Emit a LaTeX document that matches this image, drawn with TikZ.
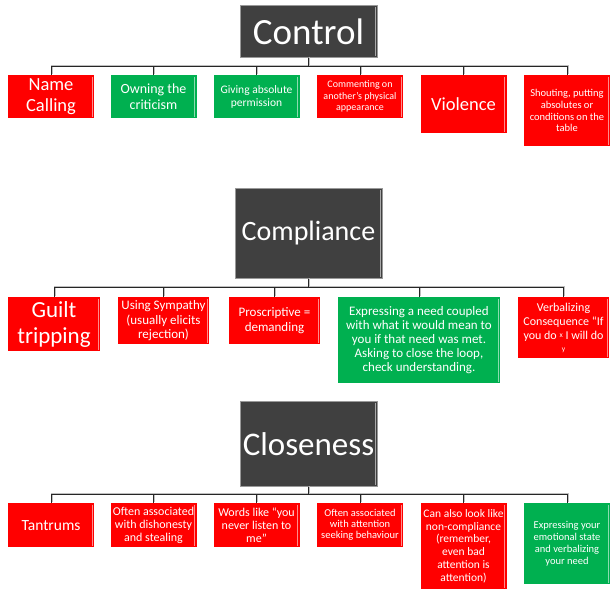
\documentclass[tikz,border=0pt]{standalone}
\usepackage{fontspec}
\setmainfont{Carlito}
\definecolor{boxred}{HTML}{FF0000}
\definecolor{boxgreen}{HTML}{00B050}
\definecolor{boxgray}{HTML}{404040}
\newcommand{\fsz}[2]{\fontsize{#1}{#2}\selectfont}
\begin{document}
\begin{tikzpicture}[
            x=1pt, y=-1pt,
            every node/.style={anchor=north, inner sep=0pt, align=center, text=white},
            bevel/.style={path picture={
                \draw[white, opacity=.55, line width=.7pt]
                  ([xshift=-1.8pt,yshift=-1.5pt]path picture bounding box.north east) --
                  ([xshift=-1.8pt,yshift=1.5pt]path picture bounding box.south east);}},
            titlebox/.style={bevel, fill=boxgray, draw=gray!80, line width=.8pt, minimum width=137pt},
            kidbox/.style={bevel, minimum width=86pt, minimum height=43pt},
            redbox/.style={kidbox, fill=boxred},
            greenbox/.style={kidbox, fill=boxgreen},
            wire/.style={draw=black!85, line width=.9pt,
                preaction={draw=gray!50, line width=1.4pt, transform canvas={xshift=.8pt,yshift=.8pt}}}
            ]
            \path[use as bounding box, fill=white] (0,0) rectangle (614,594);

            % Control
            \node[titlebox, minimum height=52pt, font=\fsz{37}{40}] (ctl) at (308.5,5) {Control};
            \node[redbox, font=\fsz{18.5}{21}] (ctl1) at (51,75) {Name\\Calling};
            \node[greenbox, font=\fsz{14}{16}] (ctl2) at (153.5,75) {Owning the\\criticism};
            \node[greenbox, font=\fsz{11.5}{13.5}] (ctl3) at (256.5,75) {Giving absolute\\permission};
            \node[redbox, font=\fsz{10}{11.5}] (ctl4) at (360,75) {Commenting on\\another’s physical\\appearance};
            \node[redbox, minimum height=58pt, font=\fsz{18.5}{21}] (ctl5) at (463.5,75) {Violence};
            \node[redbox, minimum height=71pt, font=\fsz{10.5}{11.7}] (ctl6) at (567,75) {Shouting, putting\\absolutes or\\conditions on the\\table};
            \foreach \i in {1,...,6}
              \draw[wire] (ctl.south) -- ++(0pt,-9pt) -| (ctl\i.north);

            % Compliance
            \node[titlebox, minimum width=147pt, minimum height=90pt, font=\fsz{28}{31}] (cmp) at (308.5,188) {Compliance};
            \node[redbox, minimum width=92pt, minimum height=54pt, font=\fsz{23}{26}] (cmp1) at (54,297) {Guilt\\tripping};
            \node[redbox, minimum width=91pt, minimum height=47pt, font=\fsz{13}{14.5}] (cmp2) at (163.5,297) {Using Sympathy\\(usually elicits\\rejection)};
            \node[redbox, minimum width=91pt, minimum height=47pt, font=\fsz{13}{14.5}] (cmp3) at (274.5,297) {Proscriptive =\\demanding};
            \node[greenbox, minimum width=162pt, minimum height=86pt, font=\fsz{13}{13.8}] (cmp4) at (419,297) {Expressing a need coupled\\with what it would mean to\\you if that need was met.\\Asking to close the loop,\\check understanding.};
            \node[redbox, minimum width=91pt, minimum height=61pt, font=\fsz{12}{14}] (cmp5) at (563.5,297) {Verbalizing\\Consequence “If\\you do \raisebox{2pt}{\fsz{7.5}{7.5}x} I will do\\[-2pt]{\fsz{7.5}{7.5}y}};
            \foreach \i in {1,...,5}
              \draw[wire] (cmp.south) -- ++(0pt,-9pt) -| (cmp\i.north);

            % Closeness
            \node[titlebox, minimum height=85pt, font=\fsz{33}{36}] (cls) at (308.5,401) {Closeness};
            \node[redbox, minimum height=44pt, font=\fsz{15.5}{18}] (cls1) at (51,503) {Tantrums};
            \node[redbox, minimum height=44pt, font=\fsz{12}{13}] (cls2) at (153.5,503) {Often associated\\with dishonesty\\and stealing};
            \node[redbox, minimum height=44pt, font=\fsz{12}{13}] (cls3) at (256.5,503) {Words like “you\\never listen to\\me”};
            \node[redbox, minimum height=44pt, font=\fsz{10.5}{11}] (cls4) at (360,503) {Often associated\\with attention\\seeking behaviour};
            \node[redbox, minimum height=86pt, font=\fsz{11.5}{12.8}] (cls5) at (463.5,503) {Can also look like\\non-compliance\\(remember,\\even bad\\attention is\\attention)};
            \node[greenbox, minimum height=81pt, font=\fsz{10.5}{11.7}] (cls6) at (567,503) {Expressing your\\emotional state\\and verbalizing\\your need};
            \foreach \i in {1,...,6}
              \draw[wire] (cls.south) -- ++(0pt,-8pt) -| (cls\i.north);
\end{tikzpicture}
\end{document}
